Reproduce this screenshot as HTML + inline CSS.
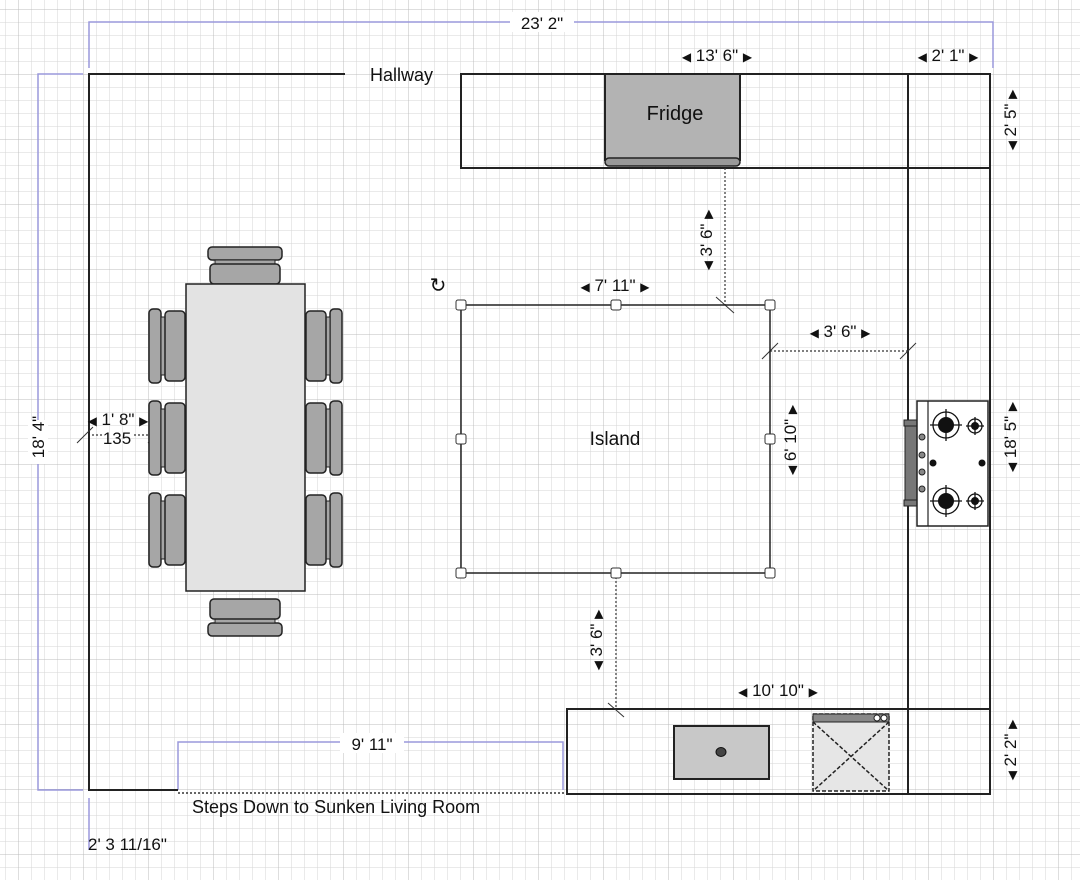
<!DOCTYPE html>
<html><head><meta charset="utf-8"><style>
html,body{margin:0;padding:0;background:#fff}
svg{display:block}
text{font-family:"Liberation Sans",sans-serif;fill:#111}
.a{font-size:12px}
</style></head><body>
<svg width="1080" height="880" viewBox="0 0 1080 880" xmlns="http://www.w3.org/2000/svg">
<defs>
<pattern id="minor" x="5" y="9" width="13" height="13" patternUnits="userSpaceOnUse">
<path d="M0 0H13M0 0V13" stroke="#d6d6d6" stroke-width="1" fill="none"/>
</pattern>
<pattern id="major" x="83" y="74" width="65" height="65" patternUnits="userSpaceOnUse">
<path d="M0 0H65M0 0V65" stroke="#bcbcbc" stroke-width="1" fill="none"/>
</pattern>
<g id="chairV">
<rect x="0" y="0" width="12" height="74" rx="4" fill="#a6a6a6" stroke="#222" stroke-width="1.5"/>
<rect x="12" y="8" width="4" height="58" fill="#a6a6a6" stroke="#222" stroke-width="1"/>
<rect x="16" y="2" width="20" height="70" rx="4" fill="#a6a6a6" stroke="#222" stroke-width="1.5"/>
</g>
<g id="chairH">
<rect x="0" y="0" width="74" height="13" rx="4" fill="#a6a6a6" stroke="#222" stroke-width="1.5"/>
<rect x="7" y="13" width="60" height="4" fill="#a6a6a6" stroke="#222" stroke-width="1"/>
<rect x="2" y="17" width="70" height="20" rx="4" fill="#a6a6a6" stroke="#222" stroke-width="1.5"/>
</g>
</defs>
<rect width="1080" height="880" fill="url(#minor)"/>
<rect width="1080" height="880" fill="url(#major)"/>

<g stroke="#9a98dc" stroke-width="1.5" fill="none">
<path d="M89 68V22H993V68"/>
<path d="M83 74H38V790H83"/>
<path d="M178 790V742H563V790"/>
<path d="M89 798V850"/>
</g>
<rect x="510" y="12" width="64" height="20" fill="#fff"/>
<text x="542" y="29" font-size="17" text-anchor="middle">23' 2"</text>
<rect x="28" y="420" width="20" height="44" fill="#fff"/>
<text transform="translate(44,437) rotate(-90)" font-size="17" text-anchor="middle">18' 4"</text>
<rect x="340" y="733" width="64" height="20" fill="#fff"/>
<text x="372" y="750" font-size="17" text-anchor="middle">9' 11"</text>
<text x="88" y="850" font-size="17">2' 3 11/16"</text>

<g stroke="#222" stroke-width="2" fill="none">
<path d="M345 74H89V790H178"/>
<rect x="461" y="74" width="529" height="94"/>
<rect x="908" y="74" width="82" height="720"/>
<rect x="567" y="709" width="423" height="85"/>
</g>
<path d="M178 793H567" stroke="#333" stroke-width="1.5" stroke-dasharray="2,2"/>
<text x="370" y="81" font-size="18">Hallway</text>
<text x="192" y="813" font-size="18">Steps Down to Sunken Living Room</text>

<rect x="605" y="74" width="135" height="86" fill="#b3b3b3" stroke="#222" stroke-width="2"/>
<rect x="605" y="158" width="135" height="8" rx="4" fill="#999" stroke="#222" stroke-width="1.5"/>
<text x="675" y="120" font-size="20" text-anchor="middle">Fridge</text>

<g font-size="17">
<text x="717" y="61" text-anchor="middle"><tspan class="a">◀</tspan> 13' 6" <tspan class="a">▶</tspan></text>
<text x="948" y="61" text-anchor="middle"><tspan class="a">◀</tspan> 2' 1" <tspan class="a">▶</tspan></text>
<text x="615" y="291" text-anchor="middle"><tspan class="a">◀</tspan> 7' 11" <tspan class="a">▶</tspan></text>
<text x="840" y="337" text-anchor="middle"><tspan class="a">◀</tspan> 3' 6" <tspan class="a">▶</tspan></text>
<text x="778" y="696" text-anchor="middle"><tspan class="a">◀</tspan> 10' 10" <tspan class="a">▶</tspan></text>
<text x="118" y="425" text-anchor="middle"><tspan class="a">◀</tspan> 1' 8" <tspan class="a">▶</tspan></text>
<text x="117" y="444" text-anchor="middle">135</text>
<text transform="translate(1016,120) rotate(-90)" text-anchor="middle"><tspan class="a">◀</tspan> 2' 5" <tspan class="a">▶</tspan></text>
<text transform="translate(1016,437) rotate(-90)" text-anchor="middle"><tspan class="a">◀</tspan> 18' 5" <tspan class="a">▶</tspan></text>
<text transform="translate(1016,750) rotate(-90)" text-anchor="middle"><tspan class="a">◀</tspan> 2' 2" <tspan class="a">▶</tspan></text>
<text transform="translate(712,240) rotate(-90)" text-anchor="middle"><tspan class="a">◀</tspan> 3' 6" <tspan class="a">▶</tspan></text>
<text transform="translate(796,440) rotate(-90)" text-anchor="middle"><tspan class="a">◀</tspan> 6' 10" <tspan class="a">▶</tspan></text>
<text transform="translate(602,640) rotate(-90)" text-anchor="middle"><tspan class="a">◀</tspan> 3' 6" <tspan class="a">▶</tspan></text>
</g>
<g stroke="#333" stroke-width="1.2" stroke-dasharray="2,2" fill="none">
<path d="M725 168V305"/><path d="M770 351H908"/><path d="M616 573V709"/>
<path d="M92 435H102M134 435H155"/>
</g>
<g stroke="#333" stroke-width="1">
<path d="M716 297L734 313"/><path d="M762 359L778 343"/><path d="M900 359L916 343"/><path d="M608 703L624 717"/>
<path d="M77 443L93 427"/><path d="M148 443L160 431"/>
</g>

<rect x="461" y="305" width="309" height="268" fill="none" stroke="#222" stroke-width="1.5"/>
<g fill="#fff" stroke="#333" stroke-width="1">
<rect x="456" y="300" width="10" height="10" rx="2"/><rect x="611" y="300" width="10" height="10" rx="2"/><rect x="765" y="300" width="10" height="10" rx="2"/>
<rect x="456" y="434" width="10" height="10" rx="2"/><rect x="765" y="434" width="10" height="10" rx="2"/>
<rect x="456" y="568" width="10" height="10" rx="2"/><rect x="611" y="568" width="10" height="10" rx="2"/><rect x="765" y="568" width="10" height="10" rx="2"/>
</g>
<text x="615" y="445" font-size="19" text-anchor="middle">Island</text>
<text x="438" y="292" font-size="20" text-anchor="middle" fill="#444">↻</text>

<use href="#chairH" x="208" y="247"/>
<use href="#chairH" x="208" y="247" transform="translate(0,883) scale(1,-1)"/>
<use href="#chairV" x="149" y="309"/><use href="#chairV" x="149" y="401"/><use href="#chairV" x="149" y="493"/>
<g transform="translate(491,0) scale(-1,1)">
<use href="#chairV" x="149" y="309"/><use href="#chairV" x="149" y="401"/><use href="#chairV" x="149" y="493"/>
</g>
<rect x="186" y="284" width="119" height="307" fill="#e3e3e3" stroke="#222" stroke-width="1.5"/>

<rect x="905" y="421" width="12" height="84" fill="#777" stroke="#222"/>
<rect x="904" y="420" width="24" height="6" fill="#777" stroke="#222"/>
<rect x="904" y="500" width="24" height="6" fill="#777" stroke="#222"/>
<rect x="917" y="401" width="71" height="125" fill="#fff" stroke="#222" stroke-width="1.5"/>
<path d="M928 401V526" stroke="#222" stroke-width="1.2"/>
<g fill="#888" stroke="#222"><circle cx="922" cy="437" r="3"/><circle cx="922" cy="455" r="3"/><circle cx="922" cy="472" r="3"/><circle cx="922" cy="489" r="3"/></g>
<g stroke="#111" stroke-width="1.3" fill="none">
<circle cx="946" cy="425" r="13"/><circle cx="946" cy="501" r="13"/>
<circle cx="975" cy="426" r="7"/><circle cx="975" cy="501" r="7"/>
<path d="M930 425H962M946 409V441M930 501H962M946 485V517M966 426H984M975 417V435M966 501H984M975 492V510"/>
</g>
<g fill="#111"><circle cx="946" cy="425" r="8"/><circle cx="946" cy="501" r="8"/><circle cx="975" cy="426" r="4"/><circle cx="975" cy="501" r="4"/><circle cx="933" cy="463" r="3.5"/><circle cx="982" cy="463" r="3.5"/></g>

<rect x="674" y="726" width="95" height="53" fill="#c8c8c8" stroke="#222" stroke-width="2"/>
<ellipse cx="721" cy="752" rx="5" ry="4.5" fill="#444" stroke="#111"/>
<rect x="813" y="714" width="76" height="77" fill="#e6e6e6" stroke="#222" stroke-width="1.5" stroke-dasharray="4,2"/>
<path d="M813 722L889 791M889 722L813 791" stroke="#222" stroke-width="1.5" stroke-dasharray="4,2"/>
<rect x="813" y="714" width="76" height="8" fill="#888" stroke="#222"/>
<circle cx="877" cy="718" r="3" fill="#fff" stroke="#222"/><circle cx="884" cy="718" r="3" fill="#fff" stroke="#222"/>
</svg>
</body></html>
